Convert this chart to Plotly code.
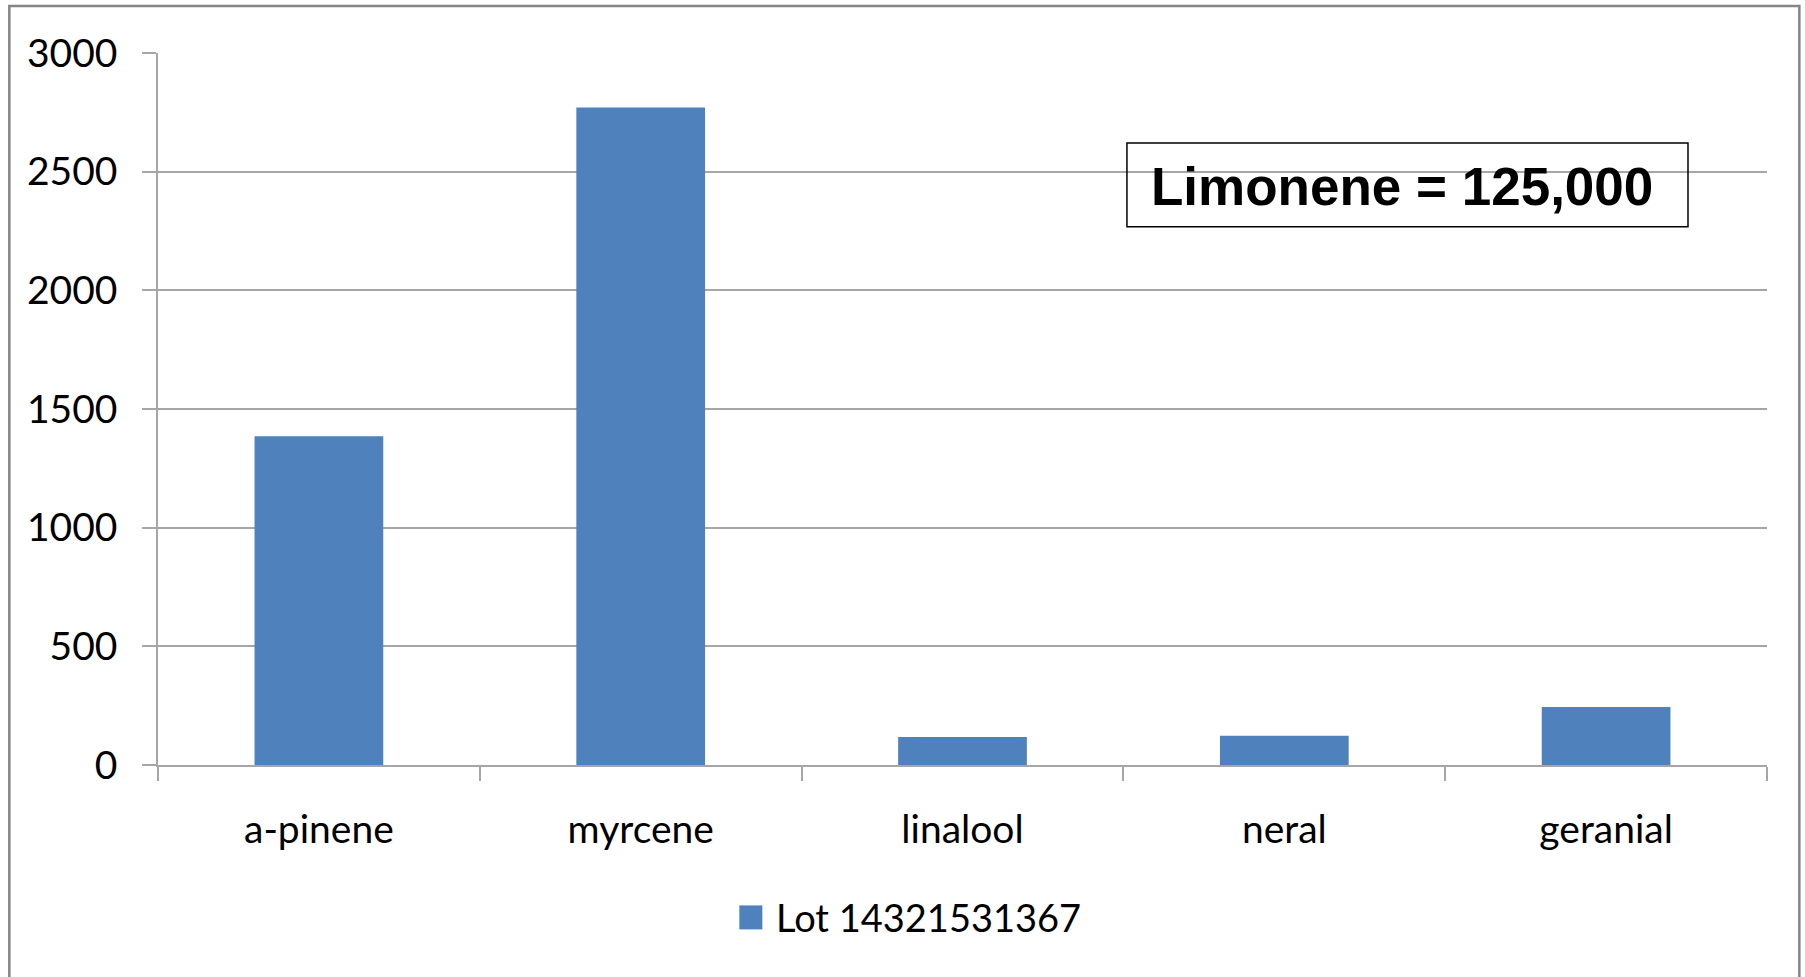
import plotly.graph_objects as go

# data
compounds = ['a-pinene', 'myrcene', 'linalool', 'neral', 'geranial']
lot_values = [1385, 2770, 118, 123, 244]
series_name = 'Lot 14321531367'
note_text = 'Limonene = 125,000'
y_ticks = [0, 500, 1000, 1500, 2000, 2500, 3000]

BAR_BLUE = '#4F81BD'
GRID = '#A6A6A6'
FONT = 'Lato'

fig = go.Figure()

fig.add_trace(
    go.Bar(
        x=compounds,
        y=lot_values,
        name=series_name,
        marker=dict(color=BAR_BLUE, line=dict(width=0)),
        showlegend=False,
    )
)

# outer chart frame (bottom edge runs off the picture)
fig.add_shape(
    type='rect', xref='paper', yref='paper',
    x0=-0.0924, x1=1.0201, y0=-0.31, y1=1.066,
    line=dict(color='#858585', width=2.5), layer='below'
)

# legend drawn by hand so the key square matches the larger swatch
fig.add_shape(
    type='rect', xref='paper', yref='paper',
    x0=0.3613, x1=0.3756, y0=-0.2309, y1=-0.1972,
    fillcolor=BAR_BLUE, line=dict(width=0)
)
fig.add_annotation(
    xref='paper', yref='paper', x=0.3828, y=-0.2133,
    xanchor='left', yanchor='middle', showarrow=False,
    text=series_name,
    font=dict(family=FONT, size=38, color='black')
)

# text box in upper right
fig.add_shape(
    type='rect', xref='paper', yref='paper',
    x0=0.6022, x1=0.9509, y0=0.7558, y1=0.8737,
    line=dict(color='black', width=1.5)
)
fig.add_annotation(
    xref='paper', yref='paper', x=0.6159, y=0.8126,
    xanchor='left', yanchor='middle', showarrow=False,
    text='<b>' + note_text + '</b>',
    font=dict(family='Liberation Sans, Arial', size=53, color='black')
)

fig.update_layout(
    width=1805, height=977,
    paper_bgcolor='white',
    plot_bgcolor='white',
    font=dict(family=FONT, color='black'),
    margin=dict(l=158, r=38, t=53, b=211.5, autoexpand=False),
    bargap=0.6,
    showlegend=False,
)

fig.update_yaxes(
    range=[0, 3000],
    tickvals=y_ticks,
    tickfont=dict(family=FONT, size=39, color='black'),
    ticks='outside', ticklen=14, tickcolor=GRID, tickwidth=1.5,
    ticklabelstandoff=17,
    showgrid=True, gridcolor=GRID, gridwidth=1.5,
    showline=True, linecolor=GRID, linewidth=1.5,
    zeroline=False,
)

fig.update_xaxes(
    tickfont=dict(family=FONT, size=39, color='black'),
    ticks='outside', tickson='boundaries', ticklen=14,
    tickcolor=GRID, tickwidth=1.5,
    ticklabelstandoff=29,
    showline=True, linecolor=GRID, linewidth=1.5,
    showgrid=False,
)

# drop the page's default body margin so the figure sits at the window corner
fig.write_html(
    'out.html',
    config={'displayModeBar': False},
    post_script="document.body.style.margin='0';",
)
